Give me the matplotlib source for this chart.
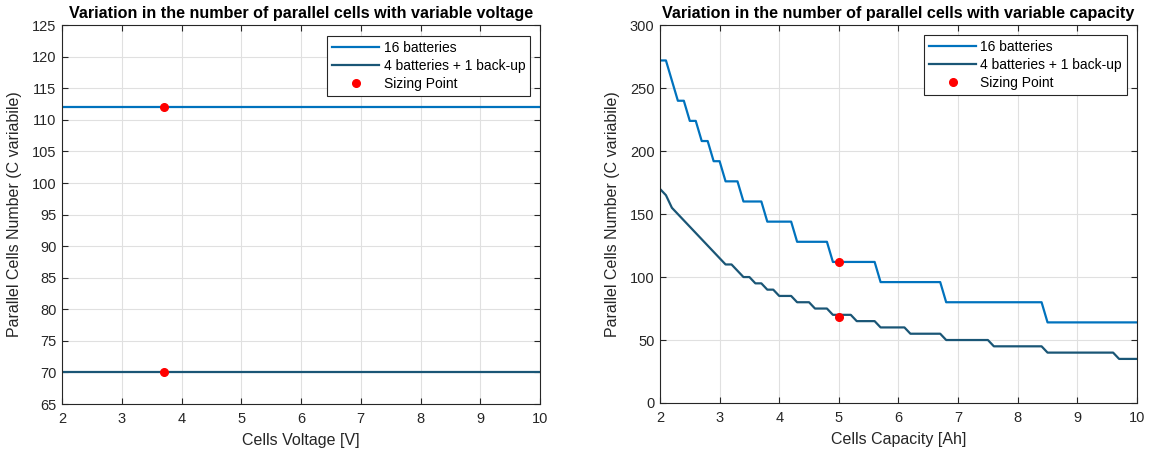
import numpy as np
import matplotlib
matplotlib.use("Agg")
import matplotlib.pyplot as plt

plt.rcParams['font.family'] = ['Liberation Sans', 'DejaVu Sans']

# ---- Data: left panel (variable voltage) ----
voltage = [2, 3, 4, 5, 6, 7, 8, 9, 10]
volt_16 = [112, 112, 112, 112, 112, 112, 112, 112, 112]
volt_4p1 = [70, 70, 70, 70, 70, 70, 70, 70, 70]
volt_sizing_x = [3.7, 3.7]
volt_sizing_y = [112, 70]

# ---- Data: right panel (variable capacity), sampled every 0.1 Ah ----
capacity = np.round(np.linspace(2.0, 10.0, 81), 1)
cap_16 = ([272] * 2 + [256] * 1 + [240] * 2 + [224] * 2 + [208] * 2 + [192] * 2 +
          [176] * 3 + [160] * 4 + [144] * 5 + [128] * 6 + [112] * 8 + [96] * 11 +
          [80] * 17 + [64] * 16)
cap_4p1 = ([170, 165, 155, 150, 145, 140, 135, 130, 125, 120, 115] +
           [110] * 2 + [105] * 1 + [100] * 2 + [95] * 2 + [90] * 2 + [85] * 3 +
           [80] * 3 + [75] * 3 + [70] * 4 + [65] * 4 + [60] * 5 + [55] * 6 +
           [50] * 8 + [45] * 9 + [40] * 12 + [35] * 4)
cap_sizing_x = [5, 5]
cap_sizing_y = [112, 68]

labels = ['16 batteries', '4 batteries + 1 back-up', 'Sizing Point']
c16 = '#0072BD'
c4 = '#1A5676'
tick_col = '#262626'

fig = plt.figure(figsize=(11.53, 4.53), dpi=100)
ax1 = fig.add_axes([0.0538, 0.108, 0.4146, 0.8366])
ax2 = fig.add_axes([0.5724, 0.1104, 0.4137, 0.834])


def style(ax):
    ax.grid(True, color='#e0e0e0', linewidth=0.8)
    ax.set_axisbelow(True)
    for s in ax.spines.values():
        s.set_color('#262626')
        s.set_linewidth(0.8)
    ax.tick_params(direction='in', length=4, width=0.8, colors=tick_col,
                   labelsize=10.5, top=True, right=True, pad=4)
    ax.tick_params(axis='x', pad=6)


ax1.plot(voltage, volt_16, color=c16, lw=1.6, label=labels[0])
ax1.plot(voltage, volt_4p1, color=c4, lw=1.6, label=labels[1])
ax1.plot(volt_sizing_x, volt_sizing_y, 'o', color='#FF0000', ms=5.5,
         linestyle='none', label=labels[2], zorder=5)
ax1.set_xlim(2, 10)
ax1.set_ylim(65, 125)
ax1.set_xticks(range(2, 11))
ax1.set_yticks(range(65, 126, 5))
ax1.set_xlabel('Cells Voltage [V]', fontsize=11.5, color=tick_col, labelpad=5)
ax1.set_ylabel('Parallel Cells Number (C variabile)', fontsize=11.5, color=tick_col, labelpad=7)
ax1.set_title('Variation in the number of parallel cells with variable voltage',
              fontsize=11.6, fontweight='bold', pad=5)
style(ax1)

ax2.plot(capacity, cap_16, color=c16, lw=1.6, label=labels[0])
ax2.plot(capacity, cap_4p1, color=c4, lw=1.6, label=labels[1])
ax2.plot(cap_sizing_x, cap_sizing_y, 'o', color='#FF0000', ms=5.5,
         linestyle='none', label=labels[2], zorder=5)
ax2.set_xlim(2, 10)
ax2.set_ylim(0, 300)
ax2.set_xticks(range(2, 11))
ax2.set_yticks(range(0, 301, 50))
ax2.set_xlabel('Cells Capacity [Ah]', fontsize=11.5, color=tick_col, labelpad=5)
ax2.set_ylabel('Parallel Cells Number (C variabile)', fontsize=11.5, color=tick_col, labelpad=7)
ax2.set_title('Variation in the number of parallel cells with variable capacity',
              fontsize=11.6, fontweight='bold', pad=5)
style(ax2)

for ax, anchor in ((ax1, (0.979, 0.971)), (ax2, (0.979, 0.974))):
    leg = ax.legend(loc='upper right', bbox_to_anchor=anchor, borderaxespad=0,
                    fontsize=10, handlelength=3.4, frameon=True, fancybox=False,
                    framealpha=1, edgecolor='#262626', borderpad=0.35,
                    labelspacing=0.3, handletextpad=0.3)
    leg.get_frame().set_linewidth(0.8)

fig.savefig('out.png', dpi=100)
